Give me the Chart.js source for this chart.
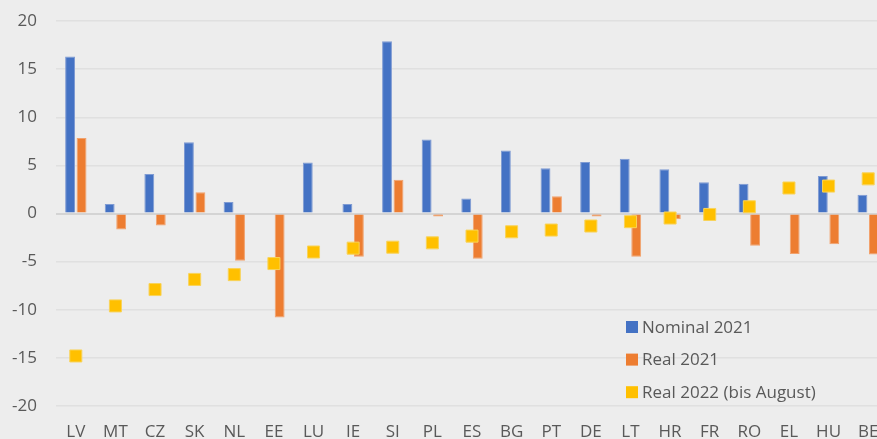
<!DOCTYPE html>
<html>
<head>
<meta charset="utf-8">
<script src="https://cdn.jsdelivr.net/npm/chart.js@4/dist/chart.umd.min.js"></script>
<style>
  html, body { margin: 0; padding: 0; background: #ededed; overflow: hidden; }
  #wrap { width: 888px; height: 439px; position: relative; }
</style>
</head>
<body>
<div id="wrap"><canvas id="chart"></canvas></div>
<script>
const countries = ["LV", "MT", "CZ", "SK", "NL", "EE", "LU", "IE", "SI", "PL", "ES",
                   "BG", "PT", "DE", "LT", "HR", "FR", "RO", "EL", "HU", "BE"];
const nominal2021 = [16.3, 1.0, 4.1, 7.4, 1.2, 0, 5.3, 1.0, 17.9, 7.7, 1.55,
                     6.55, 4.7, 5.35, 5.7, 4.6, 3.25, 3.1, 0, 3.9, 1.95];
const real2021 = [7.85, -1.65, -1.25, 2.2, -4.9, -10.8, 0, -4.5, 3.5, -0.3, -4.7,
                  0, 1.8, -0.3, -4.5, -0.6, 0, -3.35, -4.2, -3.2, -4.25];
const real2022 = [-14.8, -9.6, -7.9, -6.85, -6.35, -5.2, -4.0, -3.6, -3.5, -3.05, -2.35,
                  -1.9, -1.72, -1.3, -0.85, -0.47, -0.1, 0.7, 2.65, 2.85, 3.6];
const yTicks = [-20, -15, -10, -5, 0, 5, 10, 15, 20];

const FONT = "'Open Sans', 'Noto Sans', sans-serif";
const TEXT = "#595959";

// legend drawn inside the plot area, lower right
const boxLegend = {
    id: "boxLegend",
    afterDraw(chart) {
        const { ctx } = chart;
        ctx.save();
        ctx.font = "17px " + FONT;
        ctx.textBaseline = "middle";
        chart.data.datasets.forEach((ds, i) => {
            const y = 327 + i * 32.6;
            ctx.fillStyle = ds.backgroundColor;
            ctx.fillRect(626, y - 6, 12, 12);
            ctx.fillStyle = TEXT;
            ctx.fillText(ds.label, 642, y + 1);
        });
        ctx.restore();
    }
};

const bg = {
    id: "bg",
    beforeDraw(chart) {
        const { ctx, width, height } = chart;
        ctx.save();
        ctx.fillStyle = "#ededed";
        ctx.fillRect(0, 0, width, height);
        ctx.restore();
    }
};

new Chart(document.getElementById("chart"), {
    type: "bar",
    data: {
        labels: countries,
        datasets: [
            {
                label: "Nominal 2021",
                data: nominal2021,
                backgroundColor: "#4472c4",
                borderColor: "#7f9bd3",
                borderWidth: 1,
                order: 2
            },
            {
                label: "Real 2021",
                data: real2021,
                backgroundColor: "#ed7d31",
                borderColor: "#f2a26d",
                borderWidth: 1,
                order: 2
            },
            {
                type: "line",
                label: "Real 2022 (bis August)",
                data: real2022,
                showLine: false,
                backgroundColor: "#ffc000",
                borderColor: "#f8d35a",
                borderWidth: 1,
                pointStyle: "rect",
                pointRadius: 8.5,
                pointHoverRadius: 8.5,
                order: 0
            }
        ]
    },
    options: {
        responsive: true,
        maintainAspectRatio: false,
        animation: false,
        categoryPercentage: 0.58,
        barPercentage: 0.86,
        layout: { autoPadding: false, padding: { top: 21, bottom: 0, left: 0, right: 0 } },
        plugins: {
            legend: { display: false },
            tooltip: { enabled: false }
        },
        scales: {
            x: {
                afterFit(axis) {
                    axis.height = 33;
                    axis.paddingLeft = 0;
                    axis.paddingRight = 0;
                },
                grid: { display: false, drawTicks: false },
                border: { display: false },
                ticks: {
                    color: TEXT,
                    font: { family: FONT, size: 17 },
                    padding: 16,
                    maxRotation: 0,
                    autoSkip: false
                }
            },
            y: {
                min: -20,
                max: 20,
                afterFit(axis) {
                    axis.width = 56;
                    axis.paddingTop = 0;
                    axis.paddingBottom = 0;
                },
                afterBuildTicks(axis) { axis.ticks = yTicks.map(v => ({ value: v })); },
                border: { display: false },
                grid: {
                    color: ctx => ctx.tick && ctx.tick.value === 0 ? "#d4d4d4" : "#e0e0e0",
                    lineWidth: ctx => ctx.tick && ctx.tick.value === 0 ? 2 : 1.5,
                    drawTicks: false
                },
                ticks: {
                    color: TEXT,
                    font: { family: FONT, size: 17 },
                    padding: 19
                }
            }
        }
    },
    plugins: [bg, boxLegend]
});
</script>
</body>
</html>
